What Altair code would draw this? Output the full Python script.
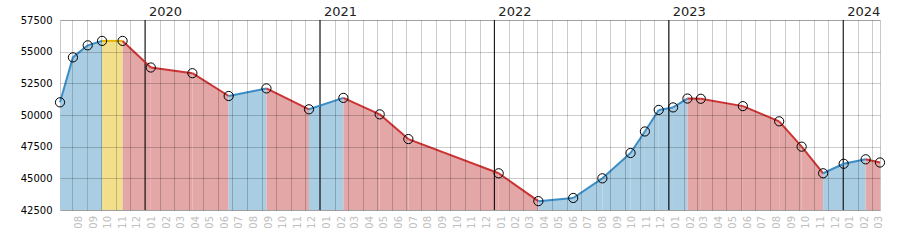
import altair as alt
import pandas as pd

# ---- data ----
dates = [
    "2019-07-07", "2019-08-03", "2019-09-03", "2019-10-03", "2019-11-15",
    "2020-01-13", "2020-04-09", "2020-06-24", "2020-09-11", "2020-12-09",
    "2021-02-19", "2021-05-06", "2021-07-05", "2022-01-10", "2022-04-03",
    "2022-06-15", "2022-08-15", "2022-10-13", "2022-11-12", "2022-12-11",
    "2023-01-10", "2023-02-09", "2023-03-09", "2023-06-05", "2023-08-20",
    "2023-10-06", "2023-11-20", "2024-01-02", "2024-02-17", "2024-03-18",
]
values = [
    51000, 54550, 55500, 55850, 55850,
    53750, 53300, 51500, 52100, 50450,
    51350, 50050, 48100, 45400, 43200,
    43450, 45000, 47000, 48700, 50400,
    50600, 51300, 51280, 50700, 49500,
    47500, 45400, 46150, 46500, 46250,
]
y_ticks = [42500, 45000, 47500, 50000, 52500, 55000, 57500]
year_starts = ["2020-01-01", "2021-01-01", "2022-01-01", "2023-01-01", "2024-01-01"]
year_labels = ["2020", "2021", "2022", "2023", "2024"]

month_starts = pd.date_range("2019-08-01", "2024-03-01", freq="MS")
month_mid = [(m + pd.Timedelta(days=15)).strftime("%Y-%m-%d") for m in month_starts]
month_labels = [m.strftime("%m") for m in month_starts]

directions = ["up", "down", "flat"]
fill_colors = ["#a9cde3", "#e3a7a8", "#f2df8b"]
line_colors = ["#3b8dc6", "#cc3333", "#e6b400"]

# ---- segment table ----
rows = []
for i in range(len(values) - 1):
    d = "up" if values[i + 1] > values[i] else ("down" if values[i + 1] < values[i] else "flat")
    rows.append({"date": dates[i], "value": values[i], "seg": i, "dir": d})
    rows.append({"date": dates[i + 1], "value": values[i + 1], "seg": i, "dir": d})
seg_df = pd.DataFrame(rows)
pts_df = pd.DataFrame({"date": dates, "value": values})
years_df = pd.DataFrame({"date": year_starts, "label": year_labels})
months_df = pd.DataFrame({"date": month_mid, "label": month_labels})

W, H = 820, 190
x_scale = alt.Scale(
    type="utc",
    domain=[alt.DateTime(year=2019, month=7, date=7, utc=True),
            alt.DateTime(year=2024, month=3, date=18, utc=True)],
)
y_scale = alt.Scale(domain=[42500, 57500], zero=False, nice=False)

x_axis = alt.Axis(
    title=None, labels=False, ticks=False, domain=False, grid=True,
    tickCount={"interval": "month", "step": 1},
    gridColor="#000000", gridOpacity=0.2, gridWidth=1, zindex=1,
)
y_axis = alt.Axis(
    title=None, values=y_ticks, ticks=False, domain=False, grid=True,
    gridColor="#000000", gridOpacity=0.2, gridWidth=1, zindex=1,
    labelFont="DejaVu Sans", labelFontSize=10, labelColor="#000000",
    labelPadding=8, format="d", labelOverlap=False, labelFlush=False,
)

X = alt.X("date:T", scale=x_scale, axis=x_axis)
Y = alt.Y("value:Q", scale=y_scale, axis=y_axis)

base = alt.Chart(seg_df)

area = base.mark_area(opacity=1).encode(
    x=X, y=Y,
    y2=alt.datum(42500),
    fill=alt.Fill("dir:N", scale=alt.Scale(domain=directions, range=fill_colors), legend=None),
    detail="seg:N",
)

year_rules = alt.Chart(years_df).mark_rule(color="#000000", strokeWidth=1).encode(
    x=X,
    y=alt.value(0),
    y2=alt.value(H),
)

line = base.mark_line(strokeWidth=2).encode(
    x=X, y=Y,
    stroke=alt.Stroke("dir:N", scale=alt.Scale(domain=directions, range=line_colors), legend=None),
    detail="seg:N",
)

points = alt.Chart(pts_df).mark_point(
    shape="circle", filled=False, stroke="#000000", strokeWidth=1, size=85, opacity=1
).encode(x=X, y=Y)

year_text = alt.Chart(years_df).mark_text(
    align="left", baseline="alphabetic", dx=4, font="DejaVu Sans", fontSize=13, color="#222222"
).encode(
    x=X,
    y=alt.value(-4),
    text="label:N",
)

month_text = alt.Chart(months_df).mark_text(
    align="right", baseline="middle", angle=270, font="DejaVu Sans", fontSize=10, color="#c0c0c0"
).encode(
    x=X,
    y=alt.value(H + 6),
    text="label:N",
)

chart = (
    alt.layer(area, year_rules, line, points, year_text, month_text)
    .properties(
        width=W, height=H,
        autosize=alt.AutoSizeParams(type="none"),
        padding={"left": 60, "top": 20, "right": 20, "bottom": 40},
        background="#ffffff",
    )
    .configure_view(stroke="#c8c8c8", strokeWidth=1)
    .configure_axisY(labelOverlap=False, labelBound=False)
)

chart.save("out.html", embed_options={"renderer": "svg", "actions": False})
